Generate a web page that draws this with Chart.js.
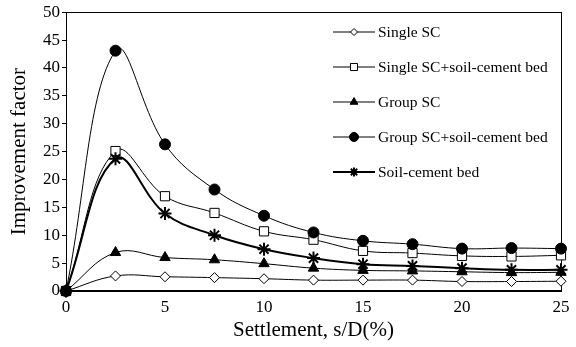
<!DOCTYPE html>
<html>
<head>
<meta charset="utf-8">
<script src="https://cdn.jsdelivr.net/npm/chart.js@4.4.0/dist/chart.umd.min.js"></script>
<style>
    html, body { margin: 0; padding: 0; background: #fff; }
    #wrap { width: 576px; height: 347px; }
</style>
</head>
<body>
<div id="wrap"><canvas id="improvementChart"></canvas></div>
<script>
const settlement = [0, 2.5, 5, 7.5, 10, 12.5, 15, 17.5, 20, 22.5, 25];
const singleSC = [0, 2.7, 2.55, 2.4, 2.2, 1.95, 1.95, 1.95, 1.7, 1.7, 1.75];
const singleSCBed = [0, 25.1, 17, 14, 10.7, 9.2, 7.2, 6.8, 6.3, 6.2, 6.4];
const groupSC = [0, 6.9, 6.0, 5.6, 4.9, 4.1, 3.7, 3.6, 3.45, 3.3, 3.35];
const groupSCBed = [0, 43.1, 26.3, 18.2, 13.5, 10.5, 9.0, 8.4, 7.6, 7.7, 7.6];
const soilBed = [0, 23.7, 13.9, 10, 7.5, 5.9, 4.8, 4.5, 4.1, 3.8, 3.8];
const yTicks = [0, 5, 10, 15, 20, 25, 30, 35, 40, 45, 50];
const xTicks = [0, 5, 10, 15, 20, 25];

const serif = "'Liberation Serif', 'Times New Roman', serif";

function toXY(values) {
    return values.map(function (v, i) {
        return { x: settlement[i], y: v };
    });
}

// legend drawn inside the plot, like the original figure
const insideLegend = {
    id: "insideLegend",
    afterDraw: function (chart) {
        const ctx = chart.ctx;
        const rows = [32, 67, 102, 137, 172];
        ctx.save();
        chart.data.datasets.forEach(function (ds, i) {
            const y = rows[i];
            ctx.strokeStyle = "#000";
            ctx.lineWidth = ds.borderWidth;
            ctx.beginPath();
            ctx.moveTo(333, y);
            ctx.lineTo(375, y);
            ctx.stroke();
            ctx.fillStyle = ds.pointBackgroundColor;
            ctx.strokeStyle = "#000";
            ctx.lineWidth = ds.pointBorderWidth || 1;
            Chart.helpers.drawPoint(ctx, {
                pointStyle: ds.pointStyle,
                radius: ds.legendRadius,
                borderWidth: ds.pointBorderWidth || 1,
            }, 354, y);
            ctx.fillStyle = "#000";
            ctx.font = "15.5px " + serif;
            ctx.textBaseline = "middle";
            ctx.textAlign = "left";
            ctx.fillText(ds.label, 378, y + 1);
        });
        ctx.restore();
    },
};

const ctx = document.getElementById("improvementChart");

new Chart(ctx, {
    type: "line",
    data: {
        datasets: [
            {
                label: "Single SC",
                data: toXY(singleSC),
                order: 4,
                borderColor: "#000",
                borderWidth: 1,
                pointStyle: "rectRot",
                pointRadius: 5,
                legendRadius: 3.5,
                pointBackgroundColor: "#fff",
                pointBorderColor: "#000",
                tension: 0.4,
                clip: false,
            },
            {
                label: "Single SC+soil-cement bed",
                data: toXY(singleSCBed),
                order: 3,
                borderColor: "#000",
                borderWidth: 1,
                pointStyle: "rect",
                pointRadius: 6.5,
                legendRadius: 5,
                pointBackgroundColor: "#fff",
                pointBorderColor: "#000",
                tension: 0.4,
                clip: false,
            },
            {
                label: "Group SC",
                data: toXY(groupSC),
                order: 1,
                borderColor: "#000",
                borderWidth: 1,
                pointStyle: "triangle",
                pointRadius: 6,
                legendRadius: 4.5,
                pointBackgroundColor: "#000",
                pointBorderColor: "#000",
                tension: 0.4,
                clip: false,
            },
            {
                label: "Group SC+soil-cement bed",
                data: toXY(groupSCBed),
                order: 0,
                borderColor: "#000",
                borderWidth: 1,
                pointStyle: "circle",
                pointRadius: 5.5,
                legendRadius: 4.5,
                pointBackgroundColor: "#000",
                pointBorderColor: "#000",
                tension: 0.4,
                clip: false,
            },
            {
                label: "Soil-cement bed",
                data: toXY(soilBed),
                order: 2,
                borderColor: "#000",
                borderWidth: 2,
                pointStyle: "star",
                pointRadius: 6.5,
                pointBorderWidth: 2,
                legendRadius: 4.5,
                pointBackgroundColor: "#000",
                pointBorderColor: "#000",
                tension: 0.4,
                clip: false,
            },
        ],
    },
    options: {
        responsive: true,
        maintainAspectRatio: false,
        animation: false,
        layout: {
            padding: { top: 11, right: 15, left: 0, bottom: 0 },
        },
        plugins: {
            legend: { display: false },
            tooltip: { enabled: false },
        },
        scales: {
            x: {
                type: "linear",
                min: 0,
                max: 25,
                afterFit: function (scale) { scale.height = 56; },
                afterBuildTicks: function (scale) {
                    scale.ticks = xTicks.map(function (v) { return { value: v }; });
                },
                grid: {
                    display: true,
                    drawOnChartArea: false,
                    drawTicks: false,
                    color: "#000",
                },
                border: { display: true, color: "#000", width: 2 },
                ticks: {
                    color: "#000",
                    font: { family: serif, size: 17 },
                    padding: 6,
                    maxRotation: 0,
                },
                title: {
                    display: true,
                    text: "Settlement, s/D(%)",
                    color: "#000",
                    font: { family: serif, size: 21 },
                    padding: { top: 0, bottom: 4 },
                },
            },
            y: {
                type: "linear",
                min: 0,
                max: 50,
                afterFit: function (scale) { scale.width = 66; },
                afterBuildTicks: function (scale) {
                    scale.ticks = yTicks.map(function (v) { return { value: v }; });
                },
                grid: {
                    display: true,
                    drawOnChartArea: false,
                    drawTicks: true,
                    tickLength: 4,
                    color: "#000",
                },
                border: { display: true, color: "#000", width: 1 },
                ticks: {
                    color: "#000",
                    font: { family: serif, size: 17 },
                    padding: 2,
                },
                title: {
                    display: true,
                    text: "Improvement factor",
                    color: "#000",
                    font: { family: serif, size: 21 },
                    padding: { top: 7, bottom: 0 },
                },
            },
            x2: {
                type: "linear",
                position: "top",
                min: 0,
                max: 25,
                afterFit: function (scale) { scale.height = 0; },
                grid: { display: false },
                ticks: { display: false },
                border: { display: true, color: "#000", width: 1 },
            },
            y2: {
                type: "linear",
                position: "right",
                min: 0,
                max: 50,
                afterFit: function (scale) { scale.width = 0; },
                grid: { display: false },
                ticks: { display: false },
                border: { display: true, color: "#000", width: 1 },
            },
        },
    },
    plugins: [insideLegend],
});
</script>
</body>
</html>
